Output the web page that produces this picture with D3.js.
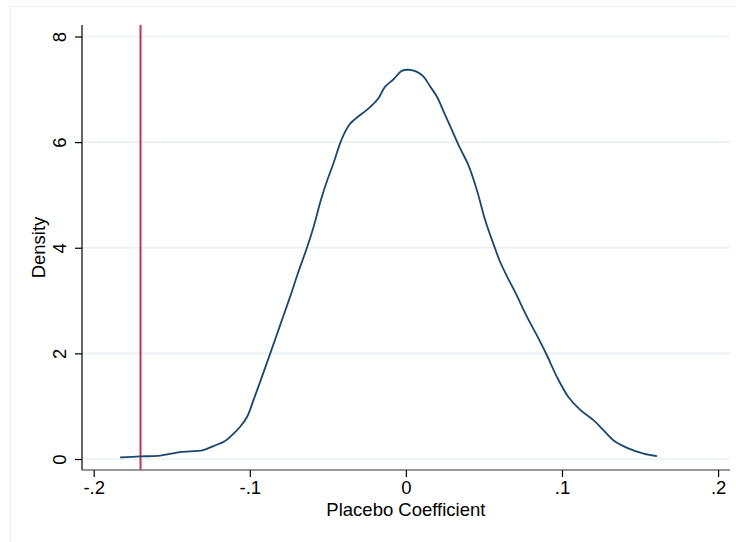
<!DOCTYPE html>
<html>
<head>
<meta charset="utf-8">
<script src="https://cdn.jsdelivr.net/npm/d3@7"></script>
<style>
  html, body { margin: 0; padding: 0; background: #fff; }
  svg { display: block; }
  text { font-family: "Liberation Sans", Arial, sans-serif; fill: #000; }
</style>
</head>
<body>
<svg id="chart" width="736" height="542"></svg>
<script>
// ---- data ----
const coef = [-0.1831, -0.1703, -0.1588, -0.1447, -0.1298, -0.1229, -0.1158, -0.1107, -0.1062, -0.1017,
  -0.0977, -0.0923, -0.0870, -0.0806, -0.0742, -0.0688, -0.0635, -0.0592, -0.0545, -0.0505,
  -0.0464, -0.0421, -0.0389, -0.0357, -0.0304, -0.0250, -0.0216, -0.0176, -0.0133, -0.0079,
  -0.0026, 0.0017, 0.0071, 0.0113, 0.0156, 0.0199, 0.0252, 0.0305, 0.0348, 0.0401,
  0.0455, 0.0508, 0.0572, 0.0604, 0.0649, 0.0700, 0.0776, 0.0850, 0.0904, 0.0968,
  0.1042, 0.1117, 0.1203, 0.1267, 0.1331, 0.1417, 0.1523, 0.1609];
const density = [0.03, 0.05, 0.06, 0.13, 0.17, 0.25, 0.34, 0.47, 0.61, 0.80,
  1.11, 1.55, 1.99, 2.53, 3.07, 3.55, 3.99, 4.39, 4.90, 5.27,
  5.60, 5.98, 6.20, 6.35, 6.49, 6.61, 6.70, 6.83, 7.05, 7.19,
  7.35, 7.37, 7.33, 7.24, 7.05, 6.86, 6.51, 6.16, 5.88, 5.56,
  5.09, 4.52, 3.98, 3.73, 3.45, 3.16, 2.69, 2.28, 1.96, 1.55,
  1.17, 0.93, 0.73, 0.54, 0.35, 0.21, 0.10, 0.053];
const xTicks = [-0.2, -0.1, 0, 0.1, 0.2];
const xTickLabels = ["-.2", "-.1", "0", ".1", ".2"];
const yTicks = [0, 2, 4, 6, 8];
const yTickLabels = ["0", "2", "4", "6", "8"];
const trueCoef = [-0.17];
const xTitle = "Placebo Coefficient";
const yTitle = "Density";

// ---- layout ----
const svg = d3.select("#chart");
const plot = { left: 82, right: 730, top: 25, bottom: 470 };
const fs = 18.5;

const x = d3.scaleLinear().domain([-0.2, 0.2]).range([93.7, 718.1]);
const y = d3.scaleLinear().domain([0, 8]).range([459, 36.5]);

// outer frame
svg.append("rect")
  .attr("x", 10.5).attr("y", 6.5).attr("width", 740).attr("height", 560)
  .attr("fill", "#fff").attr("stroke", "#e9f0f1").attr("stroke-width", 1);

// gridlines
svg.append("g").selectAll("line").data(yTicks).join("line")
  .attr("x1", plot.left).attr("x2", plot.right)
  .attr("y1", d => y(d)).attr("y2", d => y(d))
  .attr("stroke", "#eaf0f2").attr("stroke-width", 1.6);

// y axis
const yAxis = d3.axisLeft(y).tickValues(yTicks).tickSize(7).tickFormat((d, i) => yTickLabels[i]);
const gy = svg.append("g").attr("transform", `translate(${plot.left},0)`).call(yAxis);
gy.select(".domain").remove();
gy.selectAll(".tick line").attr("stroke", "#000").attr("stroke-width", 1.2);
gy.selectAll(".tick text")
  .attr("x", null).attr("dy", null)
  .attr("transform", "translate(-16.5,0) rotate(-90)")
  .attr("text-anchor", "middle")
  .attr("font-size", fs)
  .attr("fill", "#000");
svg.append("line")
  .attr("x1", plot.left).attr("x2", plot.left)
  .attr("y1", plot.top).attr("y2", plot.bottom)
  .attr("stroke", "#000").attr("stroke-width", 1.2);

// x axis
const xAxis = d3.axisBottom(x).tickValues(xTicks).tickSize(7).tickFormat((d, i) => xTickLabels[i]);
const gx = svg.append("g").attr("transform", `translate(0,${plot.bottom})`).call(xAxis);
gx.select(".domain").remove();
gx.selectAll(".tick line").attr("stroke", "#000").attr("stroke-width", 1.2);
gx.selectAll(".tick text")
  .attr("y", 23.5).attr("dy", null)
  .attr("font-size", fs)
  .attr("fill", "#000");
svg.append("line")
  .attr("x1", plot.left).attr("x2", plot.right)
  .attr("y1", plot.bottom).attr("y2", plot.bottom)
  .attr("stroke", "#333").attr("stroke-width", 1.2);

// reference line
svg.append("g").selectAll("line").data(trueCoef).join("line")
  .attr("x1", d => x(d)).attr("x2", d => x(d))
  .attr("y1", plot.top).attr("y2", plot.bottom)
  .attr("stroke", "#c9304f").attr("stroke-width", 2);

// density curve
const pts = coef.map((c, i) => [c, density[i]]);
const line = d3.line().x(d => x(d[0])).y(d => y(d[1])).curve(d3.curveCatmullRom.alpha(0.5));
svg.append("path").datum(pts)
  .attr("d", line)
  .attr("fill", "none")
  .attr("stroke", "#1a476f")
  .attr("stroke-width", 1.8);

// titles
svg.append("text")
  .attr("x", x(0)).attr("y", 516)
  .attr("text-anchor", "middle")
  .attr("font-size", fs)
  .text(xTitle);
svg.append("text")
  .attr("transform", `translate(45,${(plot.top + plot.bottom) / 2}) rotate(-90)`)
  .attr("text-anchor", "middle")
  .attr("font-size", fs)
  .text(yTitle);
</script>
</body>
</html>
